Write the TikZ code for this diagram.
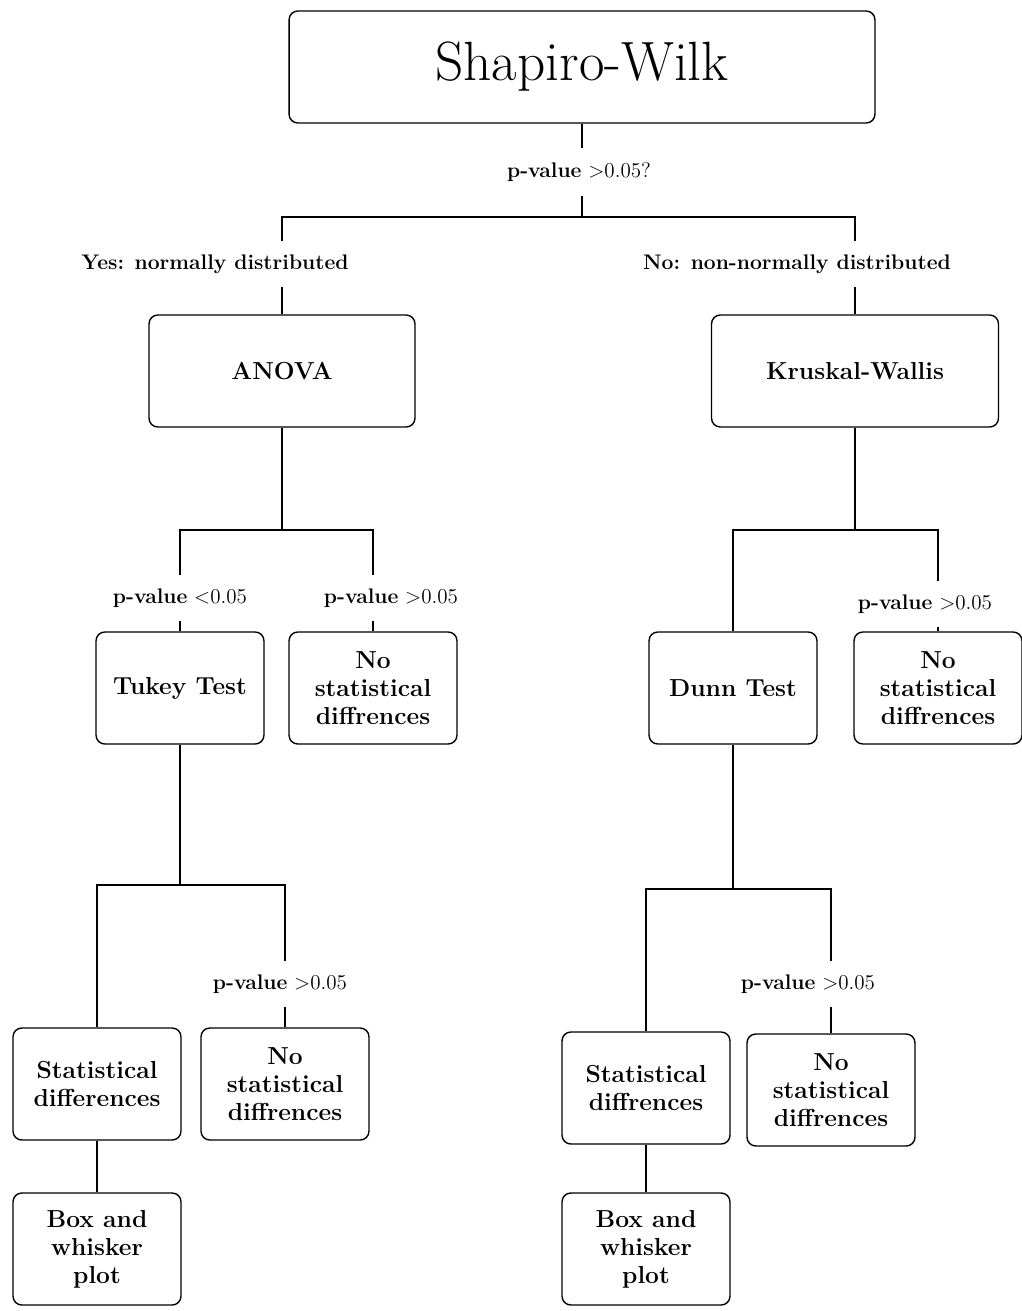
\documentclass[tikz,border=0pt]{standalone}
\usepackage{tikz}

\begin{document}
\begin{tikzpicture}[x=0.02cm,y=-0.02cm,line width=0.8pt,
    box/.style={draw,rounded corners=5pt,align=center,minimum height=2.24cm,
      font=\fontsize{14}{16}\selectfont\bfseries},
    smallbox/.style={box,minimum width=3.36cm},
    cond/.style={fill=white,inner xsep=2pt,inner ysep=8pt,
      font=\fontsize{12}{14}\selectfont}]
      \useasboundingbox (0,0) rectangle (1021,1311);
      \node[box,minimum width=11.72cm,font=\fontsize{31.5}{36}\selectfont] (sw) at (582,67) {Shapiro-Wilk};
      \node[box,minimum width=5.32cm] (anova) at (282,371) {ANOVA};
      \node[box,minimum width=5.74cm] (kw) at (855,371) {Kruskal-Wallis};
      \node[smallbox] (tukey) at (180,688) {Tukey Test};
      \node[smallbox] (nsd1) at (373,688) {No\\statistical\\diffrences};
      \node[smallbox] (dunn) at (733,688) {Dunn Test};
      \node[smallbox] (nsd2) at (938,688) {No\\statistical\\diffrences};
      \node[smallbox] (sd1) at (97,1084) {Statistical\\differences};
      \node[smallbox] (nsd3) at (285,1084) {No\\statistical\\diffrences};
      \node[smallbox] (bw1) at (97,1249) {Box and\\whisker\\plot};
      \node[smallbox] (sd2) at (646,1088) {Statistical\\diffrences};
      \node[smallbox] (nsd4) at (831,1090) {No\\statistical\\diffrences};
      \node[smallbox] (bw2) at (646,1249) {Box and\\whisker\\plot};
      \coordinate (s0) at (582,217);
      \coordinate (s1) at (282,530);
      \coordinate (s2) at (180,885);
      \coordinate (s3) at (855,530);
      \coordinate (s4) at (733,889);
      \draw (sw) -- (s0);
      \draw (anova) |- (s0) -| (kw);
      \draw (anova) -- (s1);
      \draw (tukey) |- (s1) -| (nsd1);
      \draw (tukey) -- (s2);
      \draw (sd1) |- (s2) -| (nsd3);
      \draw (sd1) -- (bw1);
      \draw (kw) -- (s3);
      \draw (dunn) |- (s3) -| (nsd2);
      \draw (dunn) -- (s4);
      \draw (sd2) |- (s4) -| (nsd4);
      \draw (sd2) -- (bw2);
      \node[cond] (q0) at (579,172) {\textbf{p-value} >0.05?};
      \node[cond] (yes) at (215,264) {\textbf{Yes: normally distributed}};
      \node[cond] (no) at (797,264) {\textbf{No: non-normally distributed}};
      \node[cond] (q1) at (180,598) {\textbf{p-value} <0.05};
      \node[cond] (q2) at (391,598) {\textbf{p-value} >0.05};
      \node[cond] (q3) at (925,604) {\textbf{p-value} >0.05};
      \node[cond] (q4) at (280,984) {\textbf{p-value} >0.05};
      \node[cond] (q5) at (808,984) {\textbf{p-value} >0.05};
\end{tikzpicture}
\end{document}
